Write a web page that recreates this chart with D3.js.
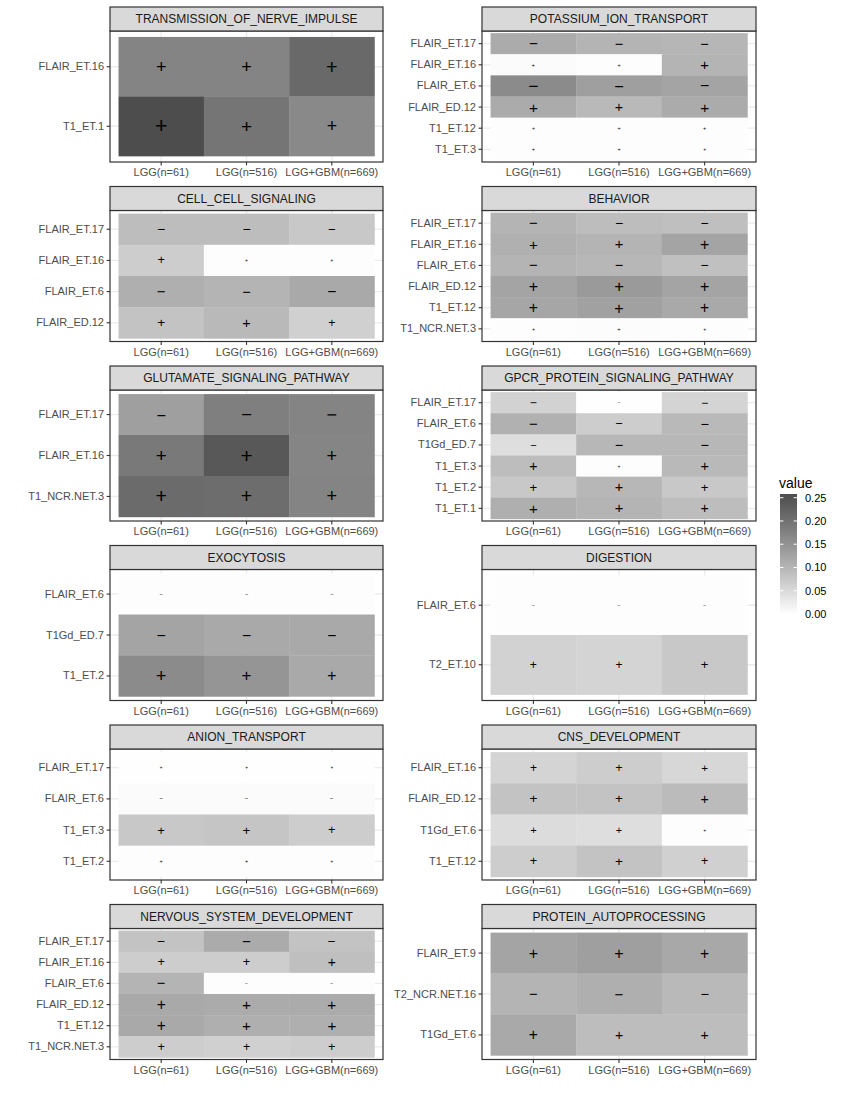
<!DOCTYPE html>
<html>
<head>
<meta charset="utf-8">
<script src="https://cdn.jsdelivr.net/npm/d3@7"></script>
<style>
  body { margin: 0; background: #fff; }
  svg text { font-family: "Liberation Sans", Arial, Helvetica, sans-serif; }
</style>
</head>
<body>
<div id="chart"></div>
<script>
"use strict";
// columns shared by every facet
const columns = ["LGG(n=61)", "LGG(n=516)", "LGG+GBM(n=669)"];

const panelTitles = [
    "TRANSMISSION_OF_NERVE_IMPULSE", "POTASSIUM_ION_TRANSPORT",
    "CELL_CELL_SIGNALING", "BEHAVIOR",
    "GLUTAMATE_SIGNALING_PATHWAY", "GPCR_PROTEIN_SIGNALING_PATHWAY",
    "EXOCYTOSIS", "DIGESTION",
    "ANION_TRANSPORT", "CNS_DEVELOPMENT",
    "NERVOUS_SYSTEM_DEVELOPMENT", "PROTEIN_AUTOPROCESSING"
];

// row labels, listed top to bottom
const panelRows = [
    ["FLAIR_ET.16", "T1_ET.1"],
    ["FLAIR_ET.17", "FLAIR_ET.16", "FLAIR_ET.6", "FLAIR_ED.12", "T1_ET.12", "T1_ET.3"],
    ["FLAIR_ET.17", "FLAIR_ET.16", "FLAIR_ET.6", "FLAIR_ED.12"],
    ["FLAIR_ET.17", "FLAIR_ET.16", "FLAIR_ET.6", "FLAIR_ED.12", "T1_ET.12", "T1_NCR.NET.3"],
    ["FLAIR_ET.17", "FLAIR_ET.16", "T1_NCR.NET.3"],
    ["FLAIR_ET.17", "FLAIR_ET.6", "T1Gd_ED.7", "T1_ET.3", "T1_ET.2", "T1_ET.1"],
    ["FLAIR_ET.6", "T1Gd_ED.7", "T1_ET.2"],
    ["FLAIR_ET.6", "T2_ET.10"],
    ["FLAIR_ET.17", "FLAIR_ET.6", "T1_ET.3", "T1_ET.2"],
    ["FLAIR_ET.16", "FLAIR_ED.12", "T1Gd_ET.6", "T1_ET.12"],
    ["FLAIR_ET.17", "FLAIR_ET.16", "FLAIR_ET.6", "FLAIR_ED.12", "T1_ET.12", "T1_NCR.NET.3"],
    ["FLAIR_ET.9", "T2_NCR.NET.16", "T1Gd_ET.6"]
];

// values per row, one per column
const panelValues = [
    [[0.172, 0.172, 0.213], [0.258, 0.195, 0.165]],
    [[0.115, 0.103, 0.100], [0.005, 0.003, 0.103], [0.162, 0.132, 0.125],
     [0.115, 0.095, 0.115], [0.002, 0.003, 0.003], [0.003, 0.003, 0.002]],
    [[0.090, 0.090, 0.075], [0.068, 0.002, 0.002], [0.110, 0.103, 0.118], [0.082, 0.096, 0.064]],
    [[0.103, 0.090, 0.087], [0.108, 0.103, 0.125], [0.103, 0.098, 0.085],
     [0.125, 0.140, 0.125], [0.122, 0.130, 0.118], [0.002, 0.004, 0.002]],
    [[0.132, 0.180, 0.172], [0.189, 0.240, 0.170], [0.210, 0.207, 0.172]],
    [[0.061, 0.001, 0.058], [0.106, 0.068, 0.096], [0.044, 0.098, 0.098],
     [0.090, 0.002, 0.096], [0.075, 0.098, 0.075], [0.110, 0.103, 0.090]],
    [[0.003, 0.003, 0.003], [0.125, 0.118, 0.118], [0.162, 0.147, 0.118]],
    [[0.002, 0.002, 0.002], [0.061, 0.058, 0.075]],
    [[0.001, 0.001, 0.001], [0.005, 0.005, 0.005], [0.075, 0.078, 0.068], [0.003, 0.003, 0.002]],
    [[0.058, 0.068, 0.054], [0.082, 0.082, 0.092], [0.047, 0.044, 0.002], [0.068, 0.082, 0.064]],
    [[0.082, 0.115, 0.082], [0.068, 0.068, 0.087], [0.103, 0.002, 0.002],
     [0.118, 0.115, 0.115], [0.118, 0.110, 0.110], [0.068, 0.064, 0.068]],
    [[0.125, 0.132, 0.120], [0.103, 0.110, 0.096], [0.118, 0.090, 0.090]]
];

// sign of each row (same across columns)
const panelSigns = [
    ["+", "+"],
    ["-", "+", "-", "+", "+", "+"],
    ["-", "+", "-", "+"],
    ["-", "+", "-", "+", "+", "+"],
    ["-", "+", "+"],
    ["-", "-", "-", "+", "+", "+"],
    ["-", "-", "+"],
    ["-", "+"],
    ["+", "-", "+", "+"],
    ["+", "+", "+", "+"],
    ["-", "+", "-", "+", "+", "+"],
    ["+", "-", "+"]
];

const legendBreaks = [0, 0.05, 0.10, 0.15, 0.20, 0.25];

const W = 850, H = 1100;
const colX = [[110, 383], [482, 756]];
const stripH = 24, panelH = 131, rowPitch = 179.5, top0 = 7;

const svg = d3.select("#chart").append("svg")
    .attr("width", W).attr("height", H)
    .attr("viewBox", `0 0 ${W} ${H}`);

const maxVal = d3.max(panelValues.flat(2));
const fill = d3.scaleLinear().domain([0, maxVal]).range(["#ffffff", "#4d4d4d"])
    .interpolate(d3.interpolateLab);
// ggplot size (mm) -> px
const sizeMM = d3.scaleSqrt().domain([0, maxVal]).range([1, 6]);
const mmToPx = 2.845 * 1.25;

panelTitles.forEach((title, p) => {
    const col = p % 2, row = Math.floor(p / 2);
    const [x0, x1] = colX[col];
    const sTop = top0 + row * rowPitch;
    const pTop = sTop + stripH;
    const pBot = pTop + panelH;
    const rows = panelRows[p];

    const x = d3.scaleBand().domain(columns).range([x0, x1]).paddingInner(0).paddingOuter(0.1);
    const y = d3.scaleBand().domain(rows).range([pTop, pBot]).paddingInner(0).paddingOuter(0.1);

    const g = svg.append("g");

    // grid
    g.selectAll("line.gx").data(columns).join("line")
        .attr("x1", d => x(d) + x.bandwidth() / 2).attr("x2", d => x(d) + x.bandwidth() / 2)
        .attr("y1", pTop).attr("y2", pBot)
        .attr("stroke", "#ebebeb").attr("stroke-width", 1.3);
    g.selectAll("line.gy").data(rows).join("line")
        .attr("y1", d => y(d) + y.bandwidth() / 2).attr("y2", d => y(d) + y.bandwidth() / 2)
        .attr("x1", x0).attr("x2", x1)
        .attr("stroke", "#ebebeb").attr("stroke-width", 1.3);

    const cells = [];
    rows.forEach((r, i) => columns.forEach((c, j) => {
        cells.push({ r, c, v: panelValues[p][i][j], s: panelSigns[p][i] });
    }));

    g.selectAll("rect.tile").data(cells).join("rect")
        .attr("x", d => x(d.c)).attr("y", d => y(d.r))
        .attr("width", x.bandwidth() + 0.3).attr("height", y.bandwidth() + 0.3)
        .attr("fill", d => fill(d.v));

    g.selectAll("text.sign").data(cells).join("text")
        .attr("x", d => x(d.c) + x.bandwidth() / 2)
        .attr("y", d => y(d.r) + y.bandwidth() / 2)
        .attr("text-anchor", "middle")
        .attr("dominant-baseline", "central")
        .attr("font-size", d => sizeMM(d.v) * mmToPx)
        .attr("fill", "#000")
        .text(d => d.s === "+" ? "+" : "\u2212");

    // panel border
    g.append("rect").attr("x", x0).attr("y", pTop).attr("width", x1 - x0).attr("height", panelH)
        .attr("fill", "none").attr("stroke", "#333333").attr("stroke-width", 1.2);

    // strip
    g.append("rect").attr("x", x0).attr("y", sTop).attr("width", x1 - x0).attr("height", stripH)
        .attr("fill", "#d9d9d9").attr("stroke", "#333333").attr("stroke-width", 1.2);
    g.append("text").attr("x", (x0 + x1) / 2).attr("y", sTop + stripH / 2)
        .attr("text-anchor", "middle").attr("dominant-baseline", "central")
        .attr("font-size", 12).attr("fill", "#1a1a1a").text(title);

    // axes
    const ax = g.append("g").attr("transform", `translate(${x0},0)`)
        .call(d3.axisLeft(y).tickSize(3.4).tickPadding(2.6));
    const bx = g.append("g").attr("transform", `translate(0,${pBot})`)
        .call(d3.axisBottom(x).tickSize(3.4).tickPadding(3));
    [ax, bx].forEach(a => {
        a.select(".domain").remove();
        a.selectAll(".tick line").attr("stroke", "#333333").attr("stroke-width", 1.1);
        a.selectAll(".tick text").attr("fill", "#4d4d4d").attr("font-size", 11)
            .attr("font-family", "'Liberation Sans', Arial, sans-serif");
    });
});

// legend
const lx = 780, lw = 17;
const ly = d3.scaleLinear().domain([0, maxVal]).range([614, 494]);
const defs = svg.append("defs");
const grad = defs.append("linearGradient").attr("id", "lg")
    .attr("x1", 0).attr("y1", 1).attr("x2", 0).attr("y2", 0);
d3.range(0, 1.0001, 0.05).forEach(t => {
    grad.append("stop").attr("offset", t).attr("stop-color", fill(t * maxVal));
});
svg.append("text").attr("x", lx - 1).attr("y", 488).attr("font-size", 14)
    .attr("fill", "#000").text("value");
svg.append("rect").attr("x", lx).attr("y", ly(maxVal)).attr("width", lw)
    .attr("height", ly(0) - ly(maxVal)).attr("fill", "url(#lg)");
const lg = svg.append("g");
legendBreaks.forEach(b => {
    lg.append("line").attr("x1", lx).attr("x2", lx + 3.4).attr("y1", ly(b)).attr("y2", ly(b))
        .attr("stroke", "#fff").attr("stroke-width", 1);
    lg.append("line").attr("x1", lx + lw - 3.4).attr("x2", lx + lw).attr("y1", ly(b)).attr("y2", ly(b))
        .attr("stroke", "#fff").attr("stroke-width", 1);
    lg.append("text").attr("x", lx + lw + 8).attr("y", ly(b)).attr("dominant-baseline", "central")
        .attr("font-size", 11).attr("fill", "#000").text(b.toFixed(2));
});
</script>
</body>
</html>
